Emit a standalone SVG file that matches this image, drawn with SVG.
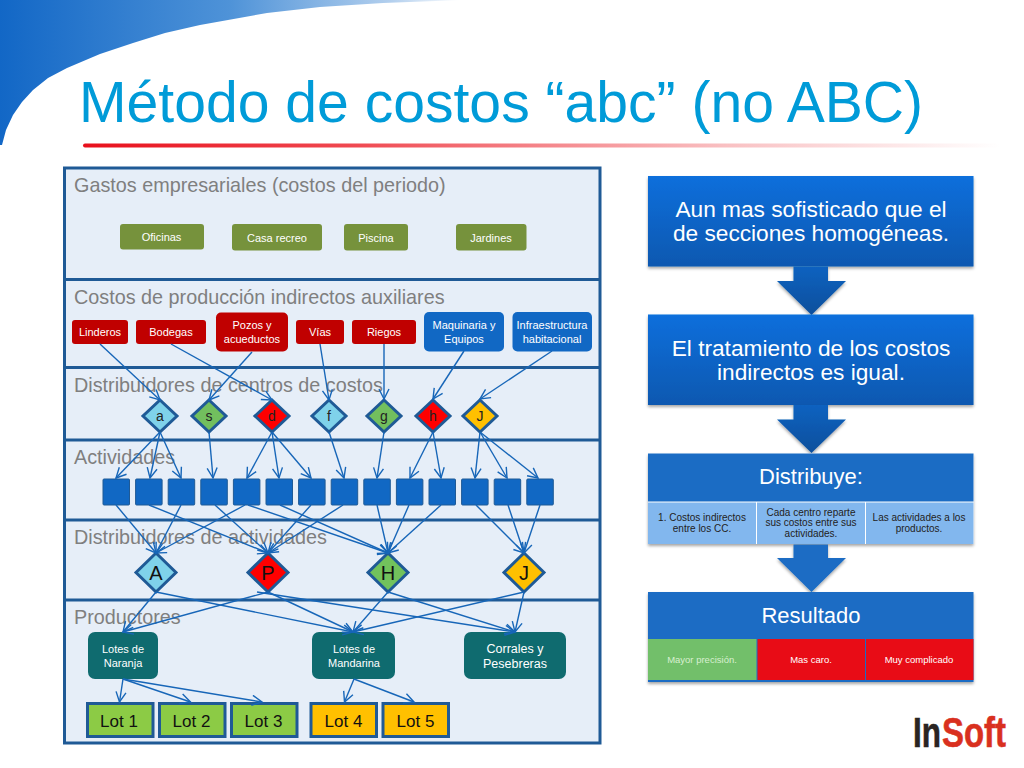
<svg xmlns="http://www.w3.org/2000/svg" width="1024" height="768" viewBox="0 0 1024 768">
<defs>
<linearGradient id="sw" x1="0" x2="1" y1="0" y2="0"><stop offset="0" stop-color="#1267c6"/><stop offset="0.5" stop-color="#4f93d8"/><stop offset="0.85" stop-color="#b4d0ee"/><stop offset="1" stop-color="#ffffff"/></linearGradient>
<linearGradient id="rl" x1="0" x2="1" y1="0" y2="0"><stop offset="0" stop-color="#e8101c"/><stop offset="0.3" stop-color="#f04a52"/><stop offset="0.7" stop-color="#f9c0c2"/><stop offset="1" stop-color="#ffffff"/></linearGradient>
<linearGradient id="bb" x1="0" x2="0" y1="0" y2="1"><stop offset="0" stop-color="#0a6fdc"/><stop offset="1" stop-color="#0a58b0"/></linearGradient>
<linearGradient id="ar" x1="0" x2="0" y1="0" y2="1"><stop offset="0" stop-color="#0c62c0"/><stop offset="1" stop-color="#0c4f9c"/></linearGradient>
<filter id="sh" x="-5%" y="-5%" width="110%" height="120%"><feDropShadow dx="0" dy="2" stdDeviation="1.5" flood-color="#000" flood-opacity="0.35"/></filter>
<marker id="a" markerUnits="userSpaceOnUse" markerWidth="16" markerHeight="14" refX="12" refY="6" orient="auto"><path d="M2 1L12 6L2 11" fill="none" stroke="#1766b8" stroke-width="1.4"/></marker>
</defs>
<style>
text{font-family:"Liberation Sans",Arial,sans-serif;text-anchor:middle}
.sec{font-size:19.8px;fill:#7f7f7f;text-anchor:start}
.g{fill:#76923c}.r{fill:#c00000}.b{fill:#1168c4}.t{fill:#0f6b6f}
.w{fill:#fff}
.s11{font-size:11px}.s12{font-size:12.5px}
.d{stroke:#1f5a96;stroke-width:3}
.dt{font-size:14px;fill:#222}
.dT{font-size:20px;fill:#111}
.lot{stroke:#1f5a96;stroke-width:3}
.lt{font-size:17px;fill:#111}
.sq{fill:#1168c4;stroke:#1f5a96;stroke-width:1}
#conn line{stroke:#1766b8;stroke-width:1.4;marker-end:url(#a)}
.big{font-size:22.7px;fill:#fff}
.hd{fill:#1b6cc4}
.cell{fill:#82b7ee}
.ct{font-size:10px;fill:#222}
.rt{font-size:9.5px;fill:#fff}
</style>
<rect width="1024" height="768" fill="#fff"/>
<path id="swoosh" d="M0 0H462L383 3L320 7L267 13L200 25L165 33L133 43L100 54L67 68L48 78L33 90L22 102L13 115L6 130L2 145L0 145Z" fill="url(#sw)"/>
<text id="title" x="79" y="122" style="text-anchor:start;font-size:57.1px;fill:#009bd8">Método de costos “abc” (no ABC)</text>
<rect id="rule" x="83" y="143.500" width="917" height="4" rx="2" fill="url(#rl)"/>

<g id="panel">
<rect x="64.500" y="168" width="535.500" height="575" fill="#e6eef8" stroke="#1f5a96" stroke-width="3"/>
<path d="M64 279.500H600M64 367.500H600M64 440H600M64 520H600M64 600H600" stroke="#1f5a96" stroke-width="3" fill="none"/>
<text class="sec" x="74" y="192">Gastos empresariales (costos del periodo)</text>
<text class="sec" x="74" y="304">Costos de producción indirectos auxiliares</text>
<text class="sec" x="74" y="392">Distribuidores de centros de costos</text>
<text class="sec" x="74" y="464">Actividades</text>
<text class="sec" x="74" y="544">Distribuidores de actividades</text>
<text class="sec" x="74" y="624">Productores</text>
</g>

<g id="n-oficinas"><rect class="g" x="120" y="224" width="84" height="25.500" rx="3"/><text class="w s11" x="161.500" y="241">Oficinas</text></g>
<g id="n-casa"><rect class="g" x="232" y="224" width="90" height="26.500" rx="3"/><text class="w s11" x="277" y="242">Casa recreo</text></g>
<g id="n-piscina"><rect class="g" x="344" y="224" width="64" height="26.500" rx="3"/><text class="w s11" x="376" y="242">Piscina</text></g>
<g id="n-jardines"><rect class="g" x="456" y="224" width="70.500" height="26.500" rx="3"/><text class="w s11" x="491" y="242">Jardines</text></g>

<g id="n-linderos"><rect class="r" x="72" y="320" width="56" height="24" rx="3"/><text class="w s11" x="100" y="336">Linderos</text></g>
<g id="n-bodegas"><rect class="r" x="136" y="320" width="70" height="24" rx="3"/><text class="w s11" x="171" y="336">Bodegas</text></g>
<g id="n-pozos"><rect class="r" x="216" y="312.500" width="72" height="39" rx="5"/><text class="w s11" x="252" y="329">Pozos y</text><text class="w s11" x="252" y="343">acueductos</text></g>
<g id="n-vias"><rect class="r" x="296" y="320" width="48" height="24" rx="3"/><text class="w s11" x="320" y="336">Vías</text></g>
<g id="n-riegos"><rect class="r" x="352" y="320" width="64" height="24" rx="3"/><text class="w s11" x="384" y="336">Riegos</text></g>
<g id="n-maq"><rect class="b" x="424" y="312" width="80" height="39.500" rx="5"/><text class="w s11" x="464" y="329">Maquinaria y</text><text class="w s11" x="464" y="343">Equipos</text></g>
<g id="n-infra"><rect class="b" x="512.500" y="312" width="79.500" height="39.500" rx="5"/><text class="w s11" x="552" y="329">Infraestructura</text><text class="w s11" x="552" y="343">habitacional</text></g>

<g id="n-a"><path class="d" d="M160 400L177 416L160 432L143 416Z" fill="#7fd2ea"/><text class="dt" x="160" y="421">a</text></g>
<g id="n-s"><path class="d" d="M209 400L226 416L209 432L192 416Z" fill="#72bf5e"/><text class="dt" x="209" y="421">s</text></g>
<g id="n-d"><path class="d" d="M272 400L289 416L272 432L255 416Z" fill="#ff0000"/><text class="dt" x="272" y="421">d</text></g>
<g id="n-f"><path class="d" d="M329 400L346 416L329 432L312 416Z" fill="#7fd2ea"/><text class="dt" x="329" y="421">f</text></g>
<g id="n-g"><path class="d" d="M384 400L401 416L384 432L367 416Z" fill="#72bf5e"/><text class="dt" x="384" y="421">g</text></g>
<g id="n-h"><path class="d" d="M433 400L450 416L433 432L416 416Z" fill="#ff0000"/><text class="dt" x="433" y="421">h</text></g>
<g id="n-j"><path class="d" d="M480 400L497 416L480 432L463 416Z" fill="#ffc000"/><text class="dt" x="480" y="421">J</text></g>

<g id="activities">
<rect class="sq" x="103" y="479" width="26.500" height="26" rx="1"/><rect class="sq" x="135.600" y="479" width="26.500" height="26" rx="1"/><rect class="sq" x="168.200" y="479" width="26.500" height="26" rx="1"/><rect class="sq" x="200.800" y="479" width="26.500" height="26" rx="1"/><rect class="sq" x="233.400" y="479" width="26.500" height="26" rx="1"/><rect class="sq" x="266" y="479" width="26.500" height="26" rx="1"/><rect class="sq" x="298.600" y="479" width="26.500" height="26" rx="1"/><rect class="sq" x="331.200" y="479" width="26.500" height="26" rx="1"/><rect class="sq" x="363.800" y="479" width="26.500" height="26" rx="1"/><rect class="sq" x="396.400" y="479" width="26.500" height="26" rx="1"/><rect class="sq" x="429" y="479" width="26.500" height="26" rx="1"/><rect class="sq" x="461.600" y="479" width="26.500" height="26" rx="1"/><rect class="sq" x="494.200" y="479" width="26.500" height="26" rx="1"/><rect class="sq" x="526.800" y="479" width="26.500" height="26" rx="1"/>
</g>

<g id="n-A"><path class="d" d="M156 553L176 572.500L156 592L136 572.500Z" fill="#7fd2ea"/><text class="dT" x="156" y="580">A</text></g>
<g id="n-P"><path class="d" d="M268 553L288 572.500L268 592L248 572.500Z" fill="#ff0000"/><text class="dT" x="268" y="580">P</text></g>
<g id="n-H"><path class="d" d="M388 553L408 572.500L388 592L368 572.500Z" fill="#72c25c"/><text class="dT" x="388" y="580">H</text></g>
<g id="n-J"><path class="d" d="M524 553L544 572.500L524 592L504 572.500Z" fill="#ffc000"/><text class="dT" x="524" y="580">J</text></g>

<g id="n-naranja"><rect class="t" x="88" y="632" width="70" height="47" rx="7"/><text class="w s11" x="123" y="653">Lotes de</text><text class="w s11" x="123" y="667">Naranja</text></g>
<g id="n-mandarina"><rect class="t" x="312" y="632" width="83" height="47" rx="7"/><text class="w s11" x="354" y="653">Lotes de</text><text class="w s11" x="354" y="667">Mandarina</text></g>
<g id="n-corrales"><rect class="t" x="464" y="632" width="102" height="47" rx="7"/><text class="w s12" x="515" y="653">Corrales y</text><text class="w s12" x="515" y="668">Pesebreras</text></g>

<g id="n-lot1"><rect class="lot" x="87.500" y="703.500" width="65.500" height="33" fill="#8ccb45"/><text class="lt" x="119" y="727">Lot 1</text></g>
<g id="n-lot2"><rect class="lot" x="159.500" y="703.500" width="65.500" height="33" fill="#8ccb45"/><text class="lt" x="191.500" y="727">Lot 2</text></g>
<g id="n-lot3"><rect class="lot" x="231.500" y="703.500" width="65.500" height="33" fill="#8ccb45"/><text class="lt" x="263.500" y="727">Lot 3</text></g>
<g id="n-lot4"><rect class="lot" x="311" y="703.500" width="65.500" height="33" fill="#ffc000"/><text class="lt" x="343.500" y="727">Lot 4</text></g>
<g id="n-lot5"><rect class="lot" x="383" y="703.500" width="65.500" height="33" fill="#ffc000"/><text class="lt" x="415.500" y="727">Lot 5</text></g>

<g id="conn">
<line x1="100" y1="344" x2="160" y2="400"/><line x1="171" y1="344" x2="272" y2="400"/><line x1="252" y1="352" x2="209" y2="400"/><line x1="320" y1="344" x2="329" y2="400"/><line x1="384" y1="344" x2="384" y2="399"/><line x1="464" y1="351" x2="433" y2="399"/><line x1="552" y1="351" x2="480" y2="399"/>
<line x1="160" y1="432" x2="116" y2="478"/><line x1="160" y1="432" x2="150" y2="478"/><line x1="160" y1="432" x2="181" y2="478"/>
<line x1="209" y1="432" x2="213" y2="478"/>
<line x1="272" y1="432" x2="247" y2="478"/><line x1="272" y1="432" x2="279" y2="478"/><line x1="272" y1="432" x2="311" y2="478"/>
<line x1="329" y1="432" x2="344" y2="478"/><line x1="384" y1="432" x2="377" y2="478"/>
<line x1="433" y1="432" x2="410" y2="478"/><line x1="433" y1="432" x2="441" y2="478"/>
<line x1="480" y1="432" x2="475" y2="478"/><line x1="480" y1="432" x2="507" y2="478"/><line x1="480" y1="432" x2="538" y2="478"/>
<line x1="116" y1="505" x2="156" y2="553"/><line x1="181" y1="505" x2="156" y2="553"/><line x1="245" y1="505" x2="156" y2="553"/>
<line x1="149" y1="505" x2="268" y2="553"/><line x1="215" y1="505" x2="268" y2="553"/><line x1="311" y1="505" x2="268" y2="553"/><line x1="343" y1="505" x2="268" y2="553"/>
<line x1="248" y1="505" x2="388" y2="553"/><line x1="280" y1="505" x2="388" y2="553"/><line x1="377" y1="505" x2="388" y2="553"/><line x1="409" y1="505" x2="388" y2="553"/><line x1="441" y1="505" x2="388" y2="553"/>
<line x1="476" y1="505" x2="524" y2="553"/><line x1="508" y1="505" x2="524" y2="553"/><line x1="540" y1="505" x2="524" y2="553"/>
<line x1="156" y1="592" x2="123" y2="632"/><line x1="156" y1="592" x2="353" y2="632"/>
<line x1="268" y1="592" x2="123" y2="632"/><line x1="268" y1="592" x2="353" y2="632"/><line x1="257" y1="592" x2="515" y2="632"/>
<line x1="388" y1="592" x2="353" y2="632"/><line x1="388" y1="592" x2="515" y2="632"/>
<line x1="524" y1="592" x2="353" y2="632"/><line x1="524" y1="592" x2="515" y2="632"/>
<line x1="123" y1="679" x2="119.500" y2="702"/><line x1="123" y1="679" x2="190.500" y2="702"/><line x1="123" y1="679" x2="262" y2="702"/>
<line x1="354" y1="679" x2="344.500" y2="702"/><line x1="354" y1="679" x2="414" y2="702"/>
</g>

<g id="step1"><rect x="648" y="176" width="325.500" height="90.500" fill="url(#bb)" filter="url(#sh)"/><text class="big" x="811" y="217">Aun mas sofisticado que el</text><text class="big" x="811" y="241">de secciones homogéneas.</text></g>
<path id="arrow1" d="M793.500 266.500H828V281H846L811.500 315L777 281H793.500Z" fill="url(#ar)" filter="url(#sh)"/>
<g id="step2"><rect x="648" y="314.500" width="325.500" height="90.500" fill="url(#bb)" filter="url(#sh)"/><text class="big" x="811" y="356">El tratamiento de los costos</text><text class="big" x="811" y="380">indirectos es igual.</text></g>
<path id="arrow2" d="M793.500 405H828V419.500H846L811.500 453L777 419.500H793.500Z" fill="url(#ar)" filter="url(#sh)"/>
<g id="step3">
<rect x="648" y="453.500" width="325.500" height="90.500" fill="#fff" filter="url(#sh)"/>
<rect class="hd" x="648" y="453.500" width="325.500" height="48"/>
<rect class="cell" x="648" y="502.500" width="108" height="41.500"/><rect class="cell" x="757" y="502.500" width="108" height="41.500"/><rect class="cell" x="866" y="502.500" width="107.500" height="41.500"/>
<text x="811" y="484" style="font-size:22px;fill:#fff">Distribuye:</text>
<text class="ct" x="702" y="521">1. Costos indirectos</text><text class="ct" x="702" y="532">entre los CC.</text>
<text class="ct" x="811" y="516">Cada centro reparte</text><text class="ct" x="811" y="526">sus costos entre sus</text><text class="ct" x="811" y="537">actividades.</text>
<text class="ct" x="919" y="521">Las actividades a los</text><text class="ct" x="919" y="532">productos.</text>
</g>
<path id="arrow3" d="M793.500 544.500H828V558H846L811.500 592L777 558H793.500Z" fill="#1b6cc4" filter="url(#sh)"/>
<g id="step4">
<rect class="hd" x="648" y="592" width="325.500" height="90" filter="url(#sh)"/>
<rect x="648" y="639" width="108.500" height="41" fill="#72bf6a"/><rect x="757.500" y="639" width="107.500" height="41" fill="#e80c16"/><rect x="866" y="639" width="107.500" height="41" fill="#e80c16"/>
<text x="811" y="623" style="font-size:22px;fill:#fff">Resultado</text>
<text class="rt" x="702" y="663" style="fill:#d8efd0">Mayor precisión.</text><text class="rt" x="811" y="663">Mas caro.</text><text class="rt" x="919" y="663">Muy complicado</text>
</g>
<g id="logo"><text x="913" y="747" style="text-anchor:start;font-size:43px;font-weight:bold;fill:#2a2422;stroke:#2a2422;stroke-width:.6" textLength="28" lengthAdjust="spacingAndGlyphs">In</text><text x="942" y="747" style="text-anchor:start;font-size:43px;font-weight:bold;fill:#d9301e;stroke:#d9301e;stroke-width:.6" textLength="64" lengthAdjust="spacingAndGlyphs">Soft</text></g>
</svg>
